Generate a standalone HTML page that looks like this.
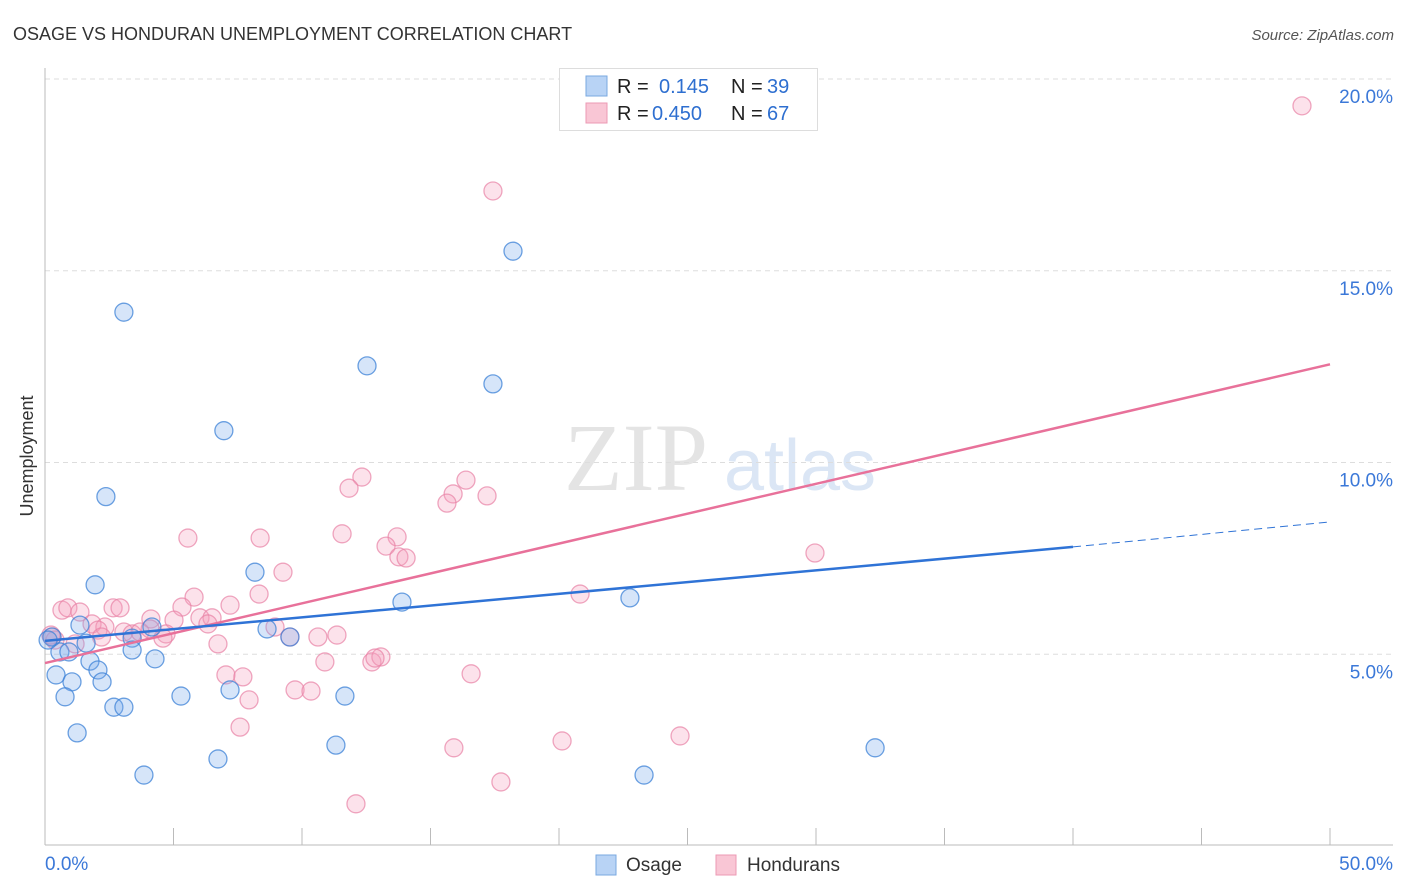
<!DOCTYPE html>
<html><head><meta charset="utf-8"><style>
body{margin:0;background:#fff;font-family:"Liberation Sans",sans-serif;}
svg{display:block}
</style></head><body>
<svg id="chart" width="1406" height="892">
<text x="13" y="40" font-size="18" fill="#333">OSAGE VS HONDURAN UNEMPLOYMENT CORRELATION CHART</text>
<text x="1394" y="40" font-size="15" fill="#555" font-style="italic" text-anchor="end">Source: ZipAtlas.com</text>
<text x="33" y="456" font-size="18" fill="#333" text-anchor="middle" transform="rotate(-90 33 456)">Unemployment</text>
<g><text x="636" y="490" font-size="96" fill="#e4e4e4" font-family="Liberation Serif,serif" text-anchor="middle">ZIP</text><text x="800" y="490" font-size="72" fill="#dbe6f5" text-anchor="middle">atlas</text></g>
<g id="grid"></g><g id="axes"></g><g id="pts"></g><g id="lines"></g>
<g>
<rect x="559.5" y="68.5" width="258" height="62" fill="#fff" stroke="#ddd"/>
<rect x="586" y="76" width="21" height="20" fill="#b8d3f5" stroke="#7aa8e0"/>
<rect x="586" y="103" width="21" height="20" fill="#f9c6d5" stroke="#ec9ab4"/>
<text x="617" y="93" font-size="20" fill="#222">R = </text><text x="659" y="93" font-size="20" fill="#2e6fd0">0.145</text>
<text x="731" y="93" font-size="20" fill="#222">N = </text><text x="767" y="93" font-size="20" fill="#2e6fd0">39</text>
<text x="617" y="120" font-size="20" fill="#222">R = </text><text x="652" y="120" font-size="20" fill="#2e6fd0">0.450</text>
<text x="731" y="120" font-size="20" fill="#222">N = </text><text x="767" y="120" font-size="20" fill="#2e6fd0">67</text>
</g>
<g>
<rect x="596" y="855" width="20" height="20" fill="#b8d3f5" stroke="#7aa8e0"/>
<text x="626" y="871" font-size="19" fill="#333">Osage</text>
<rect x="716" y="855" width="20" height="20" fill="#f9c6d5" stroke="#ec9ab4"/>
<text x="747" y="871" font-size="19" fill="#333">Hondurans</text>
</g>
</svg>
<script>
const osageX=[3.07,18.21,12.53,17.43,6.96,2.37,1.95,8.17,13.89,22.76,1.36,4.16,3.39,8.64,9.53,1.60,0.27,0.58,0.93,1.75,4.28,2.06,0.43,2.22,1.05,7.20,5.29,0.78,11.67,2.68,3.07,1.25,11.32,32.30,6.73,3.85,23.31,0.12,3.39];
const osageY=[13.92,15.51,12.52,12.05,10.83,9.11,6.81,7.14,6.36,6.47,5.76,5.71,5.42,5.66,5.45,5.29,5.45,5.06,5.06,4.82,4.88,4.59,4.46,4.28,4.28,4.07,3.91,3.89,3.91,3.62,3.62,2.95,2.63,2.56,2.27,1.85,1.85,5.37,5.11];
const hondX=[48.91,17.43,12.33,16.38,11.83,15.88,17.20,15.64,11.56,5.56,8.37,13.70,13.27,13.77,14.05,29.96,9.26,8.33,20.82,5.80,7.20,5.33,0.66,0.89,1.36,2.65,2.92,4.12,5.02,6.03,6.50,6.34,1.83,2.33,2.06,3.07,3.39,3.70,4.09,4.71,4.59,8.95,9.53,10.62,11.36,6.73,0.27,0.39,1.17,10.89,12.72,13.07,12.84,16.58,7.04,7.70,9.73,10.35,7.94,7.59,15.91,20.12,24.71,17.74,12.10,0.23,2.2];
const hondY=[19.30,17.08,9.62,9.54,9.33,9.18,9.13,8.94,8.14,8.03,8.03,8.06,7.82,7.54,7.51,7.64,7.14,6.57,6.57,6.49,6.28,6.23,6.15,6.21,6.10,6.21,6.21,5.92,5.89,5.95,5.95,5.79,5.79,5.71,5.63,5.58,5.53,5.58,5.66,5.53,5.42,5.71,5.45,5.45,5.50,5.27,5.45,5.37,5.27,4.80,4.80,4.93,4.90,4.49,4.46,4.41,4.07,4.04,3.81,3.10,2.56,2.74,2.87,1.67,1.10,5.50,5.45];
const osageTrend=[5.35,7.80,8.45]; // at x=0,40,50
const hondTrend=[4.77,12.56]; // at x=0,50
const yTicks=[5,10,15,20];
const xTickLabels=["0.0%","50.0%"];

const NS="http://www.w3.org/2000/svg";
const sx=v=>45+v*25.7, sy=v=>846-v*38.35;
function mk(tag,attrs,parent){const e=document.createElementNS(NS,tag);for(const k in attrs)e.setAttribute(k,attrs[k]);document.getElementById(parent).appendChild(e);return e;}
yTicks.forEach(t=>{
 const l=mk('line',{x1:45,x2:1393,y1:sy(t),y2:sy(t),stroke:'#ddd','stroke-dasharray':'5,4'},'grid');
 
 
 const tx=mk('text',{x:1393,y:sy(t)+24,'font-size':19,fill:'#3b78d8','text-anchor':'end'},'grid');
 tx.textContent=t.toFixed(1)+'%';
 
 
});
const ax=mk('line',{x1:45,x2:45,y1:68,y2:845,stroke:'#bbb'},'axes');


const bx=mk('line',{x1:45,x2:1393,y1:845,y2:845,stroke:'#bbb'},'axes');


for(let v=5;v<=50;v+=5){const t=mk('line',{x1:sx(v),x2:sx(v),y1:828,y2:845,stroke:'#bbb'},'axes');
 
 }
const l0=mk('text',{x:45,y:870,'font-size':19,fill:'#3b78d8'},'axes');l0.textContent=xTickLabels[0];


const l1=mk('text',{x:1393,y:870,'font-size':19,fill:'#3b78d8','text-anchor':'end'},'axes');l1.textContent=xTickLabels[1];


hondX.forEach((x,i)=>{const c=mk('circle',{cx:sx(x),cy:sy(hondY[i]),r:9,fill:'rgba(244,160,188,0.3)',stroke:'rgba(232,130,165,0.7)','stroke-width':1.3},'pts');
 
 });
osageX.forEach((x,i)=>{const c=mk('circle',{cx:sx(x),cy:sy(osageY[i]),r:9,fill:'rgba(120,170,235,0.3)',stroke:'rgba(60,130,215,0.75)','stroke-width':1.3},'pts');
 
 });
const hl=mk('line',{x1:sx(0),y1:sy(hondTrend[0]),x2:sx(50),y2:sy(hondTrend[1]),stroke:'#e8719a','stroke-width':2.5},'lines');


const ol=mk('line',{x1:sx(0),y1:sy(osageTrend[0]),x2:sx(40),y2:sy(osageTrend[1]),stroke:'#2f73d6','stroke-width':2.5},'lines');


const od=mk('line',{x1:sx(40),y1:sy(osageTrend[1]),x2:sx(50),y2:sy(osageTrend[2]),stroke:'#2f73d6','stroke-width':1,'stroke-dasharray':'8,5'},'lines');


</script>
</body></html>
